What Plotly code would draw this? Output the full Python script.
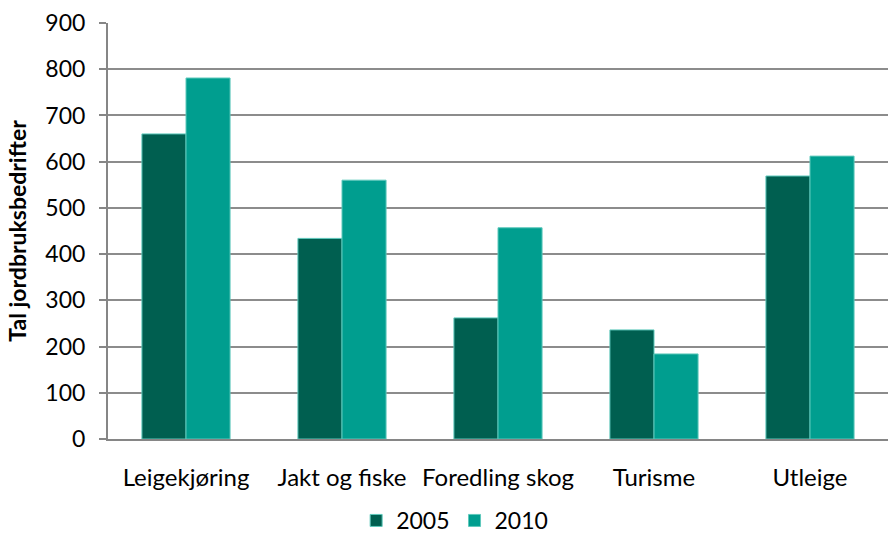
import plotly.graph_objects as go

categories = ["Leigekjøring", "Jakt og fiske", "Foredling skog", "Turisme", "Utleige"]
series_names = ["2005", "2010"]
values_2005 = [660, 434, 262, 236, 569]
values_2010 = [781, 560, 457, 184, 612]
y_ticks = [0, 100, 200, 300, 400, 500, 600, 700, 800, 900]
y_title = "Tal jordbruksbedrifter"

colors = ["#005F50", "#009E8F"]
FONT = "Lato, 'Open Sans', sans-serif"

fig = go.Figure()
for name, vals, col in zip(series_names, [values_2005, values_2010], colors):
    fig.add_trace(go.Bar(
        x=categories, y=vals, name=name,
        marker=dict(color=col, line=dict(color="#5FC9BC", width=1)),
    ))

fig.update_layout(
    width=888, height=542,
    margin=dict(l=108, r=0, t=23, b=103, autoexpand=False),
    paper_bgcolor="white", plot_bgcolor="white",
    barmode="group", bargap=0.435, bargroupgap=0,
    font=dict(family=FONT, size=24, color="black"),
    showlegend=True,
    legend=dict(
        orientation="h", xref="container", yref="container",
        x=0.512, xanchor="center", y=0.0, yanchor="bottom",
        font=dict(size=23), itemwidth=30, traceorder="normal",
        borderwidth=0,
    ),
    xaxis=dict(
        showline=True, linecolor="#868686", linewidth=2,
        ticks="", showgrid=False, ticklabelstandoff=16,
        tickfont=dict(size=24), automargin=False,
    ),
    yaxis=dict(
        range=[0, 900], tickvals=y_ticks, showgrid=True,
        gridcolor="#8C8C8C", gridwidth=1.5,
        showline=True, linecolor="#868686", linewidth=2,
        ticks="outside", ticklen=7, tickcolor="#868686", tickwidth=2,
        ticklabelstandoff=9, zeroline=False, automargin=False,
        tickfont=dict(size=23),
        title=dict(text="<b>" + y_title + "</b>", font=dict(size=23), standoff=12),
    ),
)

fig.write_html(
    "out.html",
    config={"displayModeBar": False},
    post_script="document.body.style.margin='0';document.body.style.overflow='hidden';",
)
